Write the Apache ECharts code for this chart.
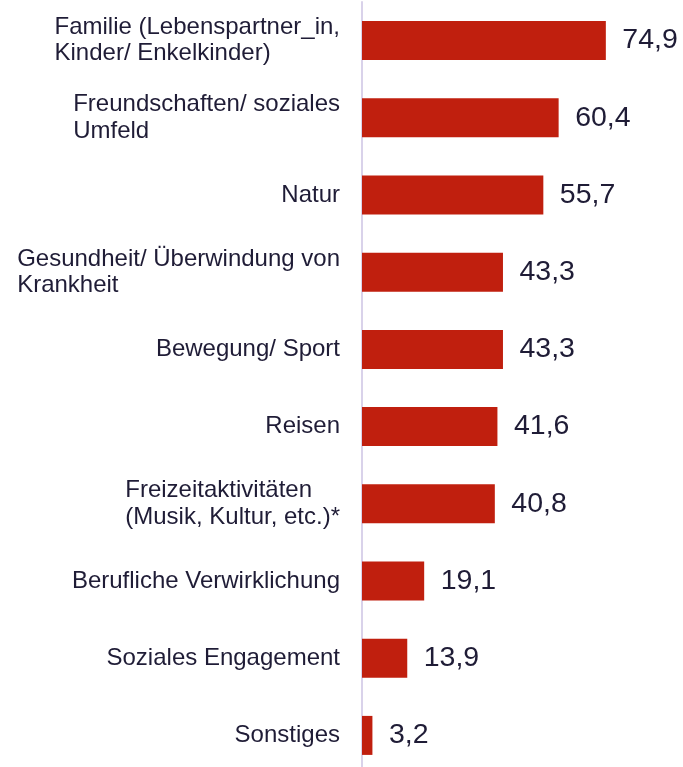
<!DOCTYPE html>
<html>
<head>
<meta charset="utf-8">
<script src="https://cdn.jsdelivr.net/npm/echarts@6/dist/echarts.min.js"></script>
<style>
html,body{margin:0;padding:0;background:#fff;overflow:hidden;}
#chart{width:683px;height:790px;}
</style>
</head>
<body>
<div id="chart"></div>
<script>
const categories = [
  'Familie (Lebenspartner_in,\nKinder/ Enkelkinder)',
  'Freundschaften/ soziales\nUmfeld',
  'Natur',
  'Gesundheit/ Überwindung von\nKrankheit',
  'Bewegung/ Sport',
  'Reisen',
  'Freizeitaktivitäten\n(Musik, Kultur, etc.)*',
  'Berufliche Verwirklichung',
  'Soziales Engagement',
  'Sonstiges'
];
const values = [74.9, 60.4, 55.7, 43.3, 43.3, 41.6, 40.8, 19.1, 13.9, 3.2];

const textColor = '#1f1c36';
const chart = echarts.init(document.getElementById('chart'), null, {renderer: 'canvas'});
chart.setOption({
  animation: false,
  backgroundColor: '#ffffff',
  grid: {left: 362, top: 2, width: 293, height: 772, containLabel: false},
  xAxis: {type: 'value', min: 0, max: 90, show: false},
  yAxis: {
    type: 'category',
    inverse: true,
    data: categories,
    axisTick: {show: false},
    axisLine: {show: true, lineStyle: {color: '#d9d2ea', width: 2}},
    axisLabel: {
      margin: 22,
      formatter: function (v) {
        return v.split('\n').map(l => '{a|' + l + '}').join('\n');
      },
      rich: {
        a: {
          fontFamily: 'Liberation Sans, Arial, sans-serif',
          fontSize: 24,
          lineHeight: 26.5,
          color: textColor,
          align: 'left'
        }
      }
    }
  },
  series: [{
    type: 'bar',
    data: values,
    barWidth: 39,
    itemStyle: {color: '#c01f0e'},
    label: {
      show: true,
      position: 'right',
      distance: 16.5,
      fontFamily: 'Liberation Sans, Arial, sans-serif',
      fontSize: 28.5,
      color: textColor,
      formatter: p => p.value.toFixed(1).replace('.', ',')
    }
  }]
});
</script>
</body>
</html>
